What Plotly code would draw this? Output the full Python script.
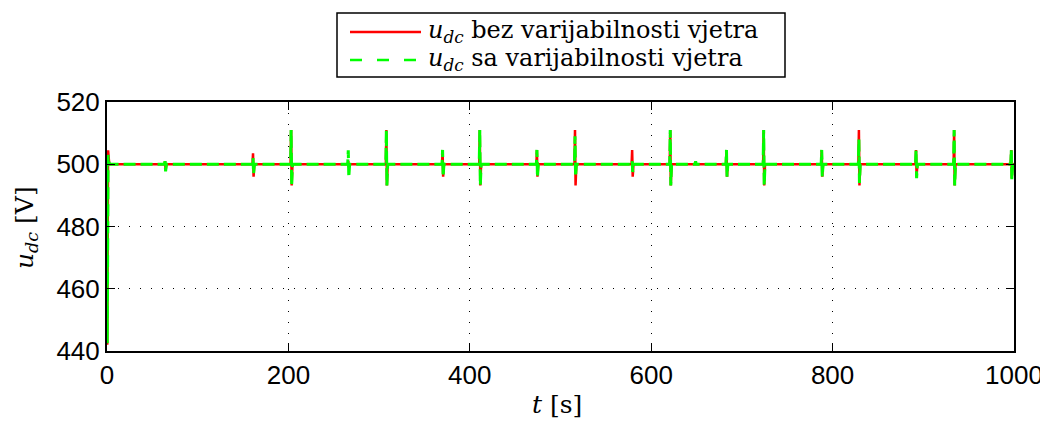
import plotly.graph_objects as go

# ---- data ----
t_start = [0, 0.3, 1.2, 2.5]
red_start = [500, 442, 504.5, 500]
green_start = [500, 442.5, 503, 500]

spike_t = [64, 161, 203, 266, 308, 370, 411, 474, 516, 579, 621, 649, 683, 724, 788, 829, 892, 934, 997]
red_hi = [501, 503.5, 511, 501, 511, 504.6, 511, 504.6, 511, 504.6, 511, 500.5, 504.6, 511, 504.6, 511, 504.6, 511, 504.6]
red_lo = [498, 496, 493.2, 499, 493.2, 496, 493.2, 496, 493.2, 496, 493.2, 500, 496, 493.2, 496, 493.2, 496, 493.2, 495.5]
green_hi = [501, 502, 511, 504.5, 511, 504.6, 511, 504.6, 509, 501, 511, 501, 504.6, 511, 504.6, 508, 504.6, 511, 504.6]
green_lo = [497.7, 497, 493.2, 495.8, 493.2, 496, 493.2, 495.8, 496, 497.5, 493.2, 500, 496, 493.2, 496, 494, 495.5, 493.2, 495]
t_end = 1000
u_base = 500

x_ticks = [0, 200, 400, 600, 800, 1000]
y_ticks = [440, 460, 480, 500, 520]


def build(start_t, start_u, hi, lo):
    t = list(start_t)
    u = list(start_u)
    for ts, h, l in zip(spike_t, hi, lo):
        t += [ts - 0.6, ts, ts + 0.6, ts + 1.5]
        u += [u_base, h, l, u_base]
    t.append(t_end)
    u.append(u_base)
    return t, u


tr, ur = build(t_start, red_start, red_hi, red_lo)
tg, ug = build(t_start, green_start, green_hi, green_lo)

fig = go.Figure()
fig.add_trace(go.Scatter(x=tr, y=ur, mode="lines", line=dict(color="#ff0000", width=2.5),
                         name="u_dc bez varijabilnosti vjetra", showlegend=False))
fig.add_trace(go.Scatter(x=tg, y=ug, mode="lines", line=dict(color="#00ff00", width=3, dash="12px,5px"),
                         name="u_dc sa varijabilnosti vjetra", showlegend=False))

# page geometry (pixels in the 1048x421 page); the page body adds an 8px margin
OFF = 8
W, H = 1048 - OFF, 421 - OFF
L, R, T, B = 107, 1014, 102, 351


def px(x):
    return (x - L) / (R - L)


def py(y):
    return (B - y) / (B - T)


serif = "DejaVu Serif"
leg_size = 24
shapes = [
    dict(type="rect", xref="paper", yref="paper", x0=px(337), x1=px(785), y0=py(13), y1=py(77),
         line=dict(color="black", width=1.5), fillcolor="white"),
    dict(type="line", xref="paper", yref="paper", x0=px(350), x1=px(421), y0=py(32), y1=py(32),
         line=dict(color="#ff0000", width=2.5)),
    dict(type="line", xref="paper", yref="paper", x0=px(350), x1=px(421), y0=py(60), y1=py(60),
         line=dict(color="#00ff00", width=2.5, dash="12px,15px")),
]
annotations = [
    dict(xref="paper", yref="paper", x=px(426), y=py(31), xanchor="left", yanchor="middle",
         text="<i>u</i><sub><i>dc</i></sub> bez varijabilnosti vjetra", showarrow=False,
         font=dict(family=serif, size=leg_size, color="black")),
    dict(xref="paper", yref="paper", x=px(426), y=py(59), xanchor="left", yanchor="middle",
         text="<i>u</i><sub><i>dc</i></sub> sa varijabilnosti vjetra", showarrow=False,
         font=dict(family=serif, size=leg_size, color="black")),
    # axis titles
    dict(xref="paper", yref="paper", x=px(557), y=py(404), xanchor="center", yanchor="middle",
         text="<i>t</i> [s]", showarrow=False, font=dict(family=serif, size=25, color="black")),
    dict(xref="paper", yref="paper", x=px(26), y=py(228), xanchor="center", yanchor="middle",
         text="<i>u</i><sub><i>dc</i></sub> [V]", textangle=-90, showarrow=False,
         font=dict(family=serif, size=25, color="black")),
]

axis_common = dict(
    showline=True, linecolor="black", linewidth=2, mirror="ticks",
    ticks="inside", ticklen=8, tickcolor="black", tickwidth=1,
    showgrid=True, gridcolor="black", gridwidth=1, griddash="1px,10px",
    zeroline=False, tickfont=dict(family="Liberation Sans", size=26, color="black"),
)

fig.update_layout(
    width=W, height=H,
    margin=dict(l=L - OFF, r=1048 - R, t=T - OFF, b=421 - B),
    paper_bgcolor="white", plot_bgcolor="white",
    xaxis=dict(range=[0, 1000], tickvals=x_ticks, automargin=False, **axis_common),
    yaxis=dict(range=[440, 520], tickvals=y_ticks, automargin=False, **axis_common),
    shapes=shapes, annotations=annotations, showlegend=False,
)

fig.write_html("out.html")
